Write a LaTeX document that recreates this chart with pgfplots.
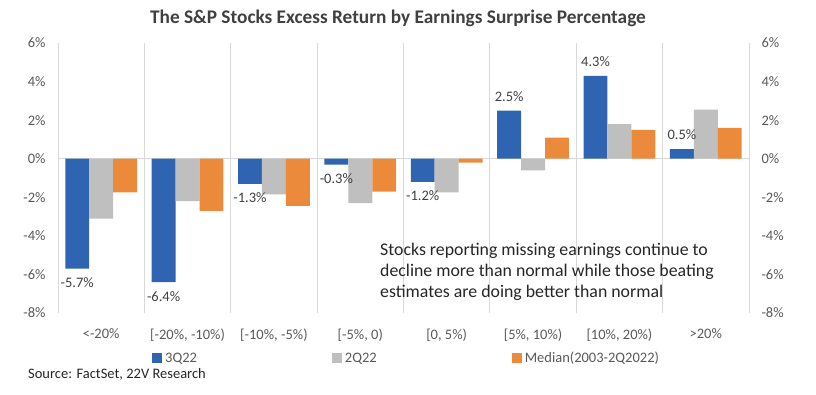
\documentclass[border=0pt]{standalone}
\usepackage{fontspec}
\setmainfont{Carlito}
\usepackage{pgfplots}
\usepackage{pgfplotstable}
\pgfplotsset{compat=1.18}
\definecolor{cblue}{HTML}{2E64B2}
\definecolor{cgray}{HTML}{BFBFBF}
\definecolor{corange}{HTML}{EC8A3C}
\definecolor{gridc}{HTML}{D9D9D9}
\definecolor{tickc}{HTML}{595959}
\definecolor{titlec}{HTML}{404040}
\definecolor{textc}{HTML}{262626}

\pgfplotstableread{
x blue gray orange
1 -5.7 -3.1 -1.75
2 -6.4 -2.2 -2.7
3 -1.3 -1.85 -2.45
4 -0.3 -2.3 -1.7
5 -1.2 -1.75 -0.2
6 2.5 -0.6 1.1
7 4.3 1.8 1.5
8 0.5 2.55 1.6
}\datatable

\begin{document}
\begin{tikzpicture}[x=1pt,y=1pt]
\path[use as bounding box] (0,0) rectangle (816,394);
\begin{axis}[
 at={(58pt,81pt)}, anchor=south west,
 width=691pt, height=270pt, scale only axis,
 xmin=0.5, xmax=8.5, ymin=-8, ymax=6,
 ybar=0pt, bar width=0.277,
 axis line style={draw=none},
 tick style={draw=none},
 xtick={1,...,8},
 xticklabels={{<-20\%},{[-20\%, -10\%)},{[-10\%, -5\%)},{[-5\%, 0)},{[0, 5\%)},{[5\%, 10\%)},{[10\%, 20\%)},{>20\%}},
 minor xtick={0.5,1.5,...,8.5},
 minor x grid style={gridc, line width=0.8pt},
 xminorgrids=true,
 ytick={-8,-6,...,6},
 yticklabels={-8\%,-6\%,-4\%,-2\%,0\%,2\%,4\%,6\%},
 extra y ticks={0}, extra y tick labels={},
 extra y tick style={grid=major, major grid style={gridc, line width=0.8pt}},
 ticklabel style={font=\fontsize{14.5}{16}\selectfont, text=tickc},
 yticklabel style={xshift=-9pt},
 xticklabel style={yshift=-8pt},
 /pgf/number format/assume math mode=true,
 legend columns=3,
 legend style={at={(0.136,-0.168)}, anchor=west, draw=none, fill=none, inner sep=0pt,
   font=\fontsize{14.5}{16}\selectfont, text=tickc,
   /tikz/every odd column/.append style={column sep=1pt},
   /tikz/every even column/.append style={column sep=133pt}},
 every node near coord/.append style={font=\fontsize{14.5}{16}\selectfont, text=titlec, inner sep=9pt},
]
\addplot[fill=cblue, draw=none, nodes near coords={\pgfmathprintnumber[fixed,precision=1,fixed zerofill]{\pgfplotspointmeta}\%},
  legend image code/.code={\fill[cblue] (0pt,-5pt) rectangle (10pt,5pt);}] table[x=x,y=blue]{\datatable};
\addplot[fill=cgray, draw=none,
  legend image code/.code={\fill[cgray] (0pt,-5pt) rectangle (10pt,5pt);}] table[x=x,y=gray]{\datatable};
\addplot[fill=corange, draw=none,
  legend image code/.code={\fill[corange] (0pt,-5pt) rectangle (10pt,5pt);}] table[x=x,y=orange]{\datatable};
\legend{3Q22,2Q22,Median(2003-2Q2022)}
\end{axis}
\begin{axis}[
 at={(58pt,81pt)}, anchor=south west,
 width=691pt, height=270pt, scale only axis,
 xmin=0.5, xmax=8.5, ymin=-8, ymax=6,
 axis y line*=right, axis x line=none,
 axis line style={draw=none},
 tick style={draw=none},
 ytick={-8,-6,...,6},
 yticklabels={-8\%,-6\%,-4\%,-2\%,0\%,2\%,4\%,6\%},
 ticklabel style={font=\fontsize{14.5}{16}\selectfont, text=tickc},
 yticklabel style={xshift=9pt},
]
\end{axis}
\node[font=\fontsize{19.3}{22}\selectfont\bfseries, text=titlec] at (398,376) {The S\&P Stocks Excess Return by Earnings Surprise Percentage};
\node[anchor=base west, align=left, font=\fontsize{17.8}{21}\selectfont, text=textc, inner sep=0pt] at (380,97) {Stocks reporting missing earnings continue to\\decline more than normal while those beating\\estimates are doing better than normal};
\node[anchor=west, font=\fontsize{14.5}{16}\selectfont, text=textc, inner sep=0pt] at (28,20) {Source: FactSet, 22V Research};
\end{tikzpicture}
\end{document}
